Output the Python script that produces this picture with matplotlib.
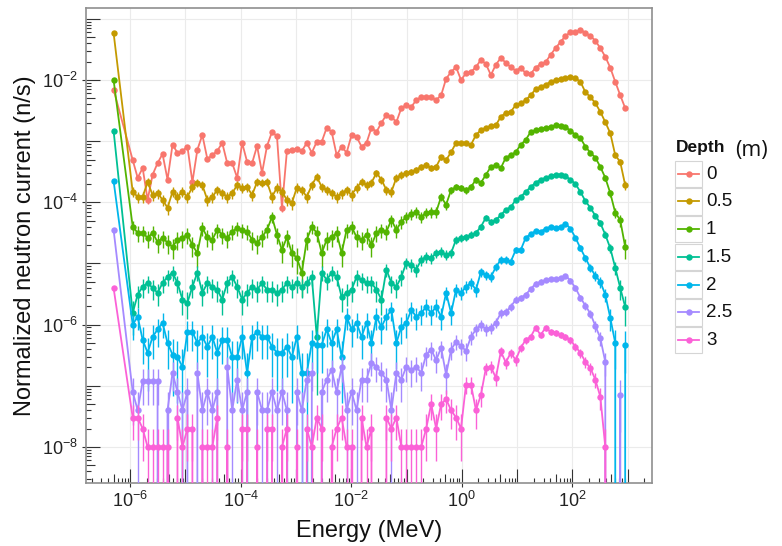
import numpy as np
import matplotlib
matplotlib.use("Agg")
import matplotlib.pyplot as plt
from matplotlib.patches import Rectangle
from matplotlib.lines import Line2D
from matplotlib.collections import LineCollection
from matplotlib.ticker import NullLocator, FuncFormatter

plt.rcParams['font.family'] = ['Liberation Sans', 'DejaVu Sans']
plt.rcParams['mathtext.fontset'] = 'custom'
plt.rcParams['mathtext.rm'] = 'Liberation Sans'
plt.rcParams['mathtext.it'] = 'Liberation Sans:italic'
plt.rcParams['mathtext.bf'] = 'Liberation Sans:bold'

# 100 log-spaced energy bins from 1e-6 to 1e3 MeV, plus the thermal bin
bin_edges = np.logspace(-6, 3, 101)
thermal_energy = 5e-7

depths = ['0', '0.5', '1', '1.5', '2', '2.5', '3']
colors = ['#F8766D', '#C49A00', '#53B400', '#00C094', '#00B6EB', '#A58AFF', '#FB61D7']

# value of a single tally count at each depth (Poisson error bars)
tally_unit = [2e-6, 5e-6, 2.5e-6, 5e-7, 2e-7, 4e-8, 1e-8]

# log10 of the normalized current in the thermal bin
log_thermal = [-2.16, -1.23, -2.00, -2.83, -3.65, -4.45, -5.40]

# log10 of the normalized current per energy bin, None = empty bin
log_d0 = [
    -3.31, -3.60, -3.44, -3.96, -3.55, -3.36, -3.21, -3.63, -3.06, -3.19,
    -3.16, -3.09, -3.67, -3.14, -2.90, -3.29, -3.23, -3.16, -3.03, -3.36,
    -3.36, -3.60, -3.03, -3.34, -3.36, -3.08, -3.52, -3.08, -2.85, -2.92,
    -4.09, -3.16, -3.14, -3.13, -3.16, -3.03, -3.19, -3.01, -3.01, -2.78,
    -2.85, -3.23, -3.09, -3.19, -2.90, -2.93, -3.09, -3.03, -2.78, -2.85,
    -2.70, -2.57, -2.60, -2.69, -2.46, -2.41, -2.44, -2.33, -2.28, -2.28,
    -2.28, -2.33, -2.25, -1.98, -1.87, -1.79, -2.00, -1.89, -1.87, -1.79,
    -1.67, -1.74, -1.92, -1.75, -1.64, -1.72, -1.79, -1.85, -1.80, -1.89,
    -1.90, -1.80, -1.74, -1.71, -1.59, -1.48, -1.38, -1.28, -1.22, -1.22,
    -1.18, -1.23, -1.28, -1.36, -1.48, -1.62, -1.80, -2.03, -2.25, -2.46]

log_d05 = [
    -3.83, -3.91, -3.91, -3.67, -3.88, -3.85, -3.96, -4.09, -3.83, -3.91,
    -3.83, -3.91, -3.75, -3.68, -3.72, -3.96, -3.91, -3.80, -3.85, -3.91,
    -3.85, -3.72, -3.76, -3.75, -3.88, -3.67, -3.68, -3.67, -3.91, -3.76,
    -3.83, -3.96, -4.01, -3.76, -3.80, -3.91, -3.72, -3.58, -3.75, -3.80,
    -3.85, -3.91, -3.85, -3.80, -3.88, -3.76, -3.67, -3.72, -3.68, -3.52,
    -3.63, -3.80, -3.83, -3.60, -3.55, -3.52, -3.50, -3.47, -3.42, -3.39,
    -3.44, -3.42, -3.26, -3.31, -3.18, -3.03, -3.03, -3.03, -3.06, -2.90,
    -2.82, -2.78, -2.75, -2.74, -2.60, -2.54, -2.52, -2.41, -2.38, -2.33,
    -2.25, -2.15, -2.11, -2.08, -2.03, -2.00, -1.98, -1.97, -1.95, -1.97,
    -2.03, -2.20, -2.28, -2.38, -2.52, -2.69, -2.87, -3.23, -3.34, -3.72]

log_d1 = [
    -4.40, -4.50, -4.50, -4.58, -4.50, -4.65, -4.58, -4.66, -4.73, -4.61,
    -4.58, -4.53, -4.70, -4.83, -4.42, -4.57, -4.61, -4.45, -4.53, -4.58,
    -4.48, -4.42, -4.45, -4.48, -4.61, -4.66, -4.57, -4.45, -4.24, -4.53,
    -4.78, -4.57, -4.83, -4.91, -5.15, -4.61, -4.40, -4.50, -4.83, -4.61,
    -4.57, -4.50, -4.83, -4.45, -4.40, -4.57, -4.61, -4.53, -4.70, -4.50,
    -4.45, -4.48, -4.29, -4.45, -4.32, -4.24, -4.19, -4.16, -4.24, -4.17,
    -4.16, -4.16, -3.91, -4.04, -3.80, -3.75, -3.76, -3.80, -3.75, -3.63,
    -3.68, -3.55, -3.42, -3.39, -3.44, -3.27, -3.23, -3.18, -3.06, -2.98,
    -2.85, -2.82, -2.80, -2.78, -2.77, -2.74, -2.75, -2.77, -2.83, -2.90,
    -2.95, -3.09, -3.19, -3.27, -3.42, -3.60, -3.85, -4.17, -4.29, -4.73]

log_d15 = [
    -5.81, -5.51, -5.38, -5.32, -5.40, -5.48, -5.32, -5.22, -5.15, -5.32,
    -5.59, -5.64, -5.38, -5.15, -5.48, -5.32, -5.38, -5.43, -5.59, -5.32,
    -5.22, -5.38, -5.59, -5.48, -5.38, -5.43, -5.32, -5.43, -5.43, -5.48,
    -5.43, -5.32, -5.38, -5.32, -5.38, -5.32, -5.22, -6.20, -5.15, -5.27,
    -5.15, -5.22, -5.55, -5.48, -5.43, -5.22, -5.27, -5.32, -5.32, -5.43,
    -5.59, -5.10, -5.32, -5.38, -5.22, -4.99, -5.02, -5.10, -4.94, -4.89,
    -4.91, -4.83, -4.81, -4.86, -4.83, -4.61, -4.58, -4.57, -4.53, -4.50,
    -4.40, -4.25, -4.32, -4.29, -4.21, -4.12, -4.08, -3.96, -3.91, -3.83,
    -3.75, -3.68, -3.63, -3.60, -3.57, -3.55, -3.55, -3.57, -3.63, -3.70,
    -3.83, -3.98, -4.09, -4.22, -4.34, -4.53, -4.75, -5.07, -5.40, -5.71]

log_d2 = [
    -6.00, -5.87, -6.25, -6.46, -6.20, -6.08, -5.97, -6.30, -6.49, -6.53,
    -6.69, -6.12, -6.12, -6.30, -6.20, -6.36, -6.20, -6.46, -6.25, -6.25,
    -6.53, -6.53, -6.20, -6.79, -6.20, -6.12, -6.20, -6.20, -6.36, -6.46,
    -6.46, -6.36, -6.53, -6.20, -6.79, -6.79, -6.30, -6.33, -6.33, -6.08,
    -6.30, -6.08, -6.53, -5.87, -6.08, -5.97, -6.20, -5.97, -6.30, -5.87,
    -6.04, -5.87, -5.76, -6.30, -6.04, -5.97, -5.76, -5.87, -5.81, -5.71,
    -5.81, -5.71, -5.87, -5.48, -5.81, -5.43, -5.48, -5.38, -5.32, -5.43,
    -5.14, -5.19, -5.22, -5.06, -4.94, -4.94, -4.97, -4.78, -4.78, -4.58,
    -4.52, -4.47, -4.48, -4.43, -4.40, -4.42, -4.40, -4.35, -4.43, -4.58,
    -4.75, -4.91, -5.07, -5.20, -5.30, -5.51, -5.89, -6.30, None, -6.33]

log_d25 = [
    -7.10, -7.40, -6.93, -6.93, -6.93, -6.93, None, -7.40, -6.79, -7.10,
    -7.40, -7.10, None, -6.79, -7.40, -7.10, -7.40, -7.10, None, -6.69,
    -7.40, -6.90, -7.40, -7.10, None, -7.10, -7.40, -7.40, -7.10, -7.40,
    -7.10, -7.40, None, -7.10, -7.40, -6.90, -6.79, None, -7.10, -6.90,
    -6.74, -7.10, -6.69, -7.40, -7.10, -7.40, -6.90, -6.90, -6.62, -6.69,
    -6.79, -6.90, -7.40, -6.79, -6.90, -6.69, -6.74, -6.69, -6.79, -6.49,
    -6.41, -6.58, -6.38, -6.82, -6.41, -6.28, -6.35, -6.43, -6.20, -6.08,
    -6.00, -6.08, -6.05, -5.97, -5.81, -5.79, -5.71, -5.59, -5.56, -5.51,
    -5.42, -5.33, -5.30, -5.27, -5.25, -5.25, -5.24, -5.20, -5.28, -5.40,
    -5.56, -5.69, -5.82, -6.02, -6.22, -6.61, None, None, -7.15, None]

log_d3 = [
    -7.52, -7.52, -7.70, -8.00, -8.00, -8.00, -8.00, -8.00, None, -7.52,
    -8.00, -7.70, -7.70, None, -8.00, -8.00, -8.00, -7.52, None, -8.00,
    None, None, -7.70, -7.70, None, -8.00, None, -7.70, -7.70, None,
    -8.00, -7.70, None, -8.00, None, -7.70, -8.00, -7.52, -7.70, None,
    -8.00, -7.70, -7.52, -8.00, -8.00, None, -7.52, -8.00, -7.70, None,
    None, -7.52, -7.70, -7.52, -8.00, -8.00, -8.00, -8.00, -8.00, -7.70,
    -7.30, -7.70, -7.30, -7.22, -7.40, -7.52, -7.70, -6.98, -6.98, -7.40,
    -7.15, -6.71, -6.69, -6.87, -6.44, -6.62, -6.46, -6.58, -6.38, -6.25,
    -6.20, -6.05, -6.17, -6.05, -6.12, -6.13, -6.17, -6.20, -6.25, -6.36,
    -6.46, -6.61, -6.71, -6.90, -7.18, -8.00, None, None, None, None]

series = [log_d0, log_d05, log_d1, log_d15, log_d2, log_d25, log_d3]

bin_centers = np.sqrt(bin_edges[:-1] * bin_edges[1:])
energy = np.concatenate([[thermal_energy], bin_centers])

W, H = 782, 546
fig = plt.figure(figsize=(W / 100, H / 100), dpi=100)
px_left, px_right, px_top, px_bottom = 86, 652, 8, 483
ax = fig.add_axes([px_left / W, 1 - px_bottom / H,
                   (px_right - px_left) / W, (px_bottom - px_top) / H])

ax.set_xscale('log')
ax.set_yscale('log')
ax.set_xlim(10 ** -6.80, 10 ** 3.44)
ax.set_ylim(10 ** -8.59, 10 ** -0.824)

# grid at every decade
for d in range(-6, 4):
    ax.axvline(10.0 ** d, color='#EBEBEB', lw=0.8, zorder=0)
for d in range(-8, 0):
    ax.axhline(10.0 ** d, color='#EBEBEB', lw=0.8, zorder=0)

mk = 4.6
for k, logs in enumerate(series):
    vals = [log_thermal[k]] + logs
    y = np.array([0.0 if v is None else 10.0 ** v for v in vals])
    err = np.sqrt(y * tally_unit[k])
    ax.errorbar(energy, y, yerr=err, color=colors[k], lw=1.3,
                marker='o', ms=mk, mew=0, elinewidth=1.0,
                capsize=2.2, capthick=1.0, zorder=2 + k)

# axis ticks and labels
ax.set_xticks([1e-6, 1e-4, 1e-2, 1e0, 1e2])
ax.set_yticks([1e-8, 1e-6, 1e-4, 1e-2])
ax.xaxis.set_minor_locator(NullLocator())
ax.yaxis.set_minor_locator(NullLocator())
fmt = FuncFormatter(lambda v, p: r'$10^{%d}$' % round(np.log10(v)))
ax.xaxis.set_major_formatter(fmt)
ax.yaxis.set_major_formatter(fmt)
ax.tick_params(direction='out', length=3, width=0.8, color='#333333',
               labelsize=13, labelcolor='#222222', pad=3)

for s in ax.spines.values():
    s.set_color('#8f8f8f')
    s.set_linewidth(1.2)

# log ticks drawn inside the panel along the bottom and left edges
ax_w = px_right - px_left
ax_h = px_bottom - px_top
tick_len = {1: 14, 5: 9}
segs_x, segs_y = [], []
for d in range(-7, 4):
    for m in range(1, 10):
        v = m * 10.0 ** d
        L = tick_len.get(m, 5)
        if 10 ** -6.80 <= v <= 10 ** 3.44:
            segs_x.append([(v, 0), (v, L / ax_h)])
for d in range(-9, 0):
    for m in range(1, 10):
        v = m * 10.0 ** d
        L = tick_len.get(m, 5)
        if 10 ** -8.59 <= v <= 10 ** -0.824:
            segs_y.append([(0, v), (L / ax_w, v)])
ax.add_collection(LineCollection(segs_x, colors='#333333', linewidths=0.8,
                                 transform=ax.get_xaxis_transform(), zorder=1))
ax.add_collection(LineCollection(segs_y, colors='#333333', linewidths=0.8,
                                 transform=ax.get_yaxis_transform(), zorder=1))

ax.set_xlabel('Energy (MeV)', fontsize=17, color='#111111', labelpad=6)
ax.set_ylabel('Normalized neutron current (n/s)', fontsize=17,
              color='#111111', labelpad=4)

# legend built in pixel units
lx0, lx1, ly0, ly1 = 668, 782, 128, 360
leg = fig.add_axes([lx0 / W, 1 - ly1 / H, (lx1 - lx0) / W, (ly1 - ly0) / H])
leg.set_xlim(lx0, lx1)
leg.set_ylim(ly1, ly0)
leg.axis('off')
leg.text(676, 147, 'Depth', fontsize=12.5, fontweight='bold',
         va='center', ha='left', color='#111111')
leg.text(735, 150, '(m)', fontsize=15.5, family=['Open Sans', 'DejaVu Sans'],
         va='center', ha='left', color='#111111')
for k, lab in enumerate(depths):
    top = 160.5 + 27.7 * k
    leg.add_patch(Rectangle((675, top), 27, 26.5, fc='white',
                            ec='#D5D5D5', lw=0.8))
    cy = top + 13.25
    leg.add_line(Line2D([678, 699], [cy, cy], color=colors[k], lw=1.3))
    leg.add_line(Line2D([688.5], [cy], color=colors[k], marker='o',
                        ms=mk, mew=0))
    leg.text(706, cy + 0.5, lab, fontsize=13.5, va='center', ha='left',
             color='#111111')

fig.savefig('out.png', dpi=100)
